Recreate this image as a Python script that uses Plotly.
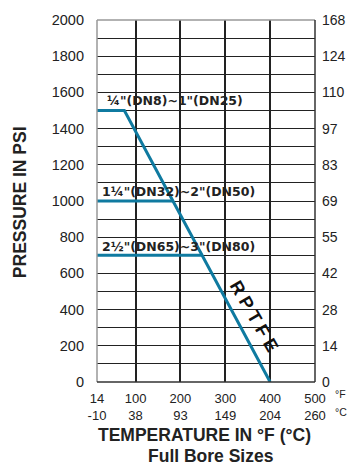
import plotly.graph_objects as go

# ---- data ----
temp_f_ticks = [14, 100, 200, 300, 400, 500]
temp_c_ticks = [-10, 38, 93, 149, 204, 260]
psi_ticks = [0, 200, 400, 600, 800, 1000, 1200, 1400, 1600, 1800, 2000]
bar_ticks = ["0", "14", "28", "42", "55", "69", "83", "97", "110", "124", "168"]

# RPTFE rating curve (°F, psi)
rptfe_temp = [14, 75, 400]
rptfe_psi = [1500, 1500, 0]

# size class plateaus
size_labels = ["¼\"(DN8)~1\"(DN25)", "1¼\"(DN32)~2\"(DN50)", "2½\"(DN65)~3\"(DN80)"]
size_psi = [1500, 1000, 700]
size_end_temp = [75, 183, 250]
size_label_x = [32, 21, 21]
size_label_y = [1558, 1050, 746]

TEAL = "#0f7aa0"
GRID = "#222222"
FONT = "Liberation Sans, Arial, sans-serif"

fig = go.Figure()

fig.add_trace(go.Scatter(x=rptfe_temp, y=rptfe_psi, mode="lines",
                         line=dict(color=TEAL, width=3), showlegend=False,
                         hoverinfo="skip"))
for p, t in zip(size_psi[1:], size_end_temp[1:]):
    fig.add_trace(go.Scatter(x=[temp_f_ticks[0], t], y=[p, p], mode="lines",
                             line=dict(color=TEAL, width=3), showlegend=False,
                             hoverinfo="skip"))

# invisible trace for right axis
fig.add_trace(go.Scatter(x=[temp_f_ticks[0]], y=[0], yaxis="y2", mode="markers",
                         marker=dict(opacity=0), showlegend=False, hoverinfo="skip"))

annotations = []
for lab, x, y in zip(size_labels, size_label_x, size_label_y):
    annotations.append(dict(x=x, y=y, xref="x", yref="y", text=lab, showarrow=False,
                            xanchor="left", yanchor="middle",
                            font=dict(family="DejaVu Sans", size=12.5, color="#222",
                                      weight="bold")))
annotations.append(dict(x=364, y=365, xref="x", yref="y", text="R P T F E",
                        showarrow=False, textangle=60,
                        xanchor="center", yanchor="middle",
                        font=dict(family=FONT, size=18, color="#111", weight="bold")))


def paper_note(x, y, text, size, bold=True, angle=0):
    return dict(x=x, y=y, xref="paper", yref="paper", text=text, showarrow=False,
                xanchor="center", yanchor="middle", textangle=angle, borderpad=0,
                font=dict(family=FONT, size=size, color="#222",
                          weight="bold" if bold else "normal"))


annotations += [
    paper_note(-0.353, 0.497, "PRESSURE IN PSI", 17.5, angle=-90),
    paper_note(0.491, -0.146, "TEMPERATURE IN °F (°C)", 17.5),
    paper_note(0.523, -0.205, "Full Bore Sizes", 17.5),
    paper_note(1.117, -0.034, "°F", 10.5, bold=False),
    paper_note(1.117, -0.084, "°C", 10.5, bold=False),
]

shapes = [
    dict(type="line", xref="paper", yref="paper", x0=0, x1=1, y0=1, y1=1,
         line=dict(color="#999", width=1.5), layer="above"),
    dict(type="line", xref="paper", yref="paper", x0=0, x1=0, y0=0, y1=1,
         line=dict(color="#999", width=1.5), layer="above"),
    dict(type="line", xref="paper", yref="paper", x0=1, x1=1, y0=0, y1=1,
         line=dict(color="#333", width=1.5), layer="above"),
    dict(type="line", xref="paper", yref="paper", x0=0, x1=1, y0=0, y1=0,
         line=dict(color="#333", width=1.5), layer="above"),
]

fig.update_layout(
    width=348, height=466,
    margin=dict(l=97, r=33, t=20, b=84, autoexpand=False),
    paper_bgcolor="white", plot_bgcolor="white",
    font=dict(family=FONT, color="#222"),
    xaxis=dict(range=[temp_f_ticks[0], temp_f_ticks[-1]], tickmode="array",
               tickvals=temp_f_ticks,
               ticktext=[f"{f}<br>{c}" for f, c in zip(temp_f_ticks, temp_c_ticks)],
               showgrid=True, gridcolor=GRID, gridwidth=1.5, zeroline=False,
               showline=False, ticks="", tickfont=dict(size=13, color="#222"),
               ticklabelstandoff=7, fixedrange=True, automargin=False),
    yaxis=dict(range=[0, 2000], tickmode="array", tickvals=psi_ticks,
               showgrid=True, gridcolor=GRID, gridwidth=1.3, zeroline=False,
               minor=dict(dtick=100, tick0=0, showgrid=True, gridcolor=GRID,
                          gridwidth=1.3),
               showline=False, ticks="", tickfont=dict(size=14.5, color="#222"),
               ticklabelstandoff=12, automargin=False),
    yaxis2=dict(range=[0, 2000], overlaying="y", side="right", tickmode="array",
                tickvals=psi_ticks, ticktext=bar_ticks, showgrid=False,
                zeroline=False, showline=False, ticks="",
                tickfont=dict(size=14, color="#222"), ticklabelstandoff=6,
                automargin=False),
    annotations=annotations,
    shapes=shapes,
    showlegend=False,
)

fig.write_html("out.html", config={"displayModeBar": False},
               post_script="document.body.style.margin='0';document.body.style.overflow='hidden';")
